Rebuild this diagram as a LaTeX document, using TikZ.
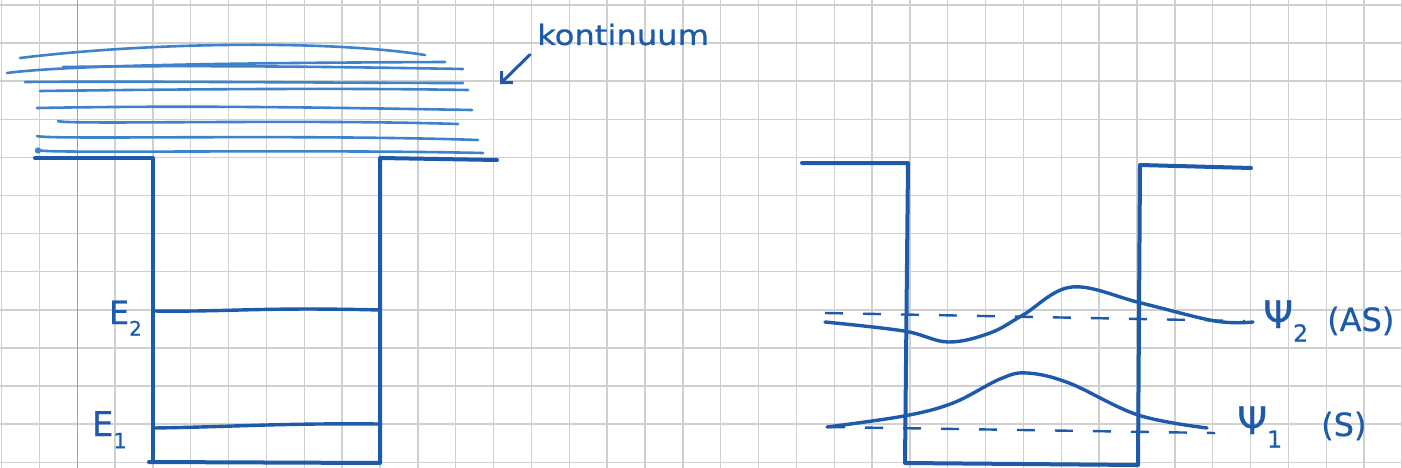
\documentclass[tikz,border=0pt]{standalone}
\usepackage{fontspec}
\usepackage{graphicx}
\setsansfont[FakeBold=0.6]{DejaVu Sans}
\usetikzlibrary{arrows.meta}
\definecolor{pen}{RGB}{30,90,170}
\definecolor{penlight}{RGB}{62,130,204}
\definecolor{paper}{RGB}{208,208,208}
\newcommand\lowidx[1]{\raisebox{-0.36em}{\scalebox{0.62}{#1}}}
\begin{document}
\begin{tikzpicture}[x=1pt,y=-1pt,
    gridline/.style={draw=paper,line width=1.4pt},
    wall/.style={draw=pen,line width=4pt,line join=round,line cap=round},
    level/.style={draw=pen,line width=3.4pt,line cap=round},
    band/.style={draw=penlight,line width=2.6pt,line cap=round},
    wave/.style={draw=pen,line width=3.4pt,line cap=round},
    guide/.style={draw=pen,line width=2.4pt,dash pattern=on 18pt off 20pt},
    hand/.style={text=pen,inner sep=0pt,font=\sffamily\fontsize{#1}{#1}\selectfont},
    hand/.default=26]
\useasboundingbox (0,0) rectangle (1402,468);
\fill[white] (0,0) rectangle (1402,468);
\foreach \gx in {0,...,37}
    \draw[gridline] ({1.5+37.85*\gx},0) -- ++(0,468);
\foreach \gy in {0,...,12}
    \draw[gridline] (0,{5+38.1*\gy}) -- ++(1402,0);
\draw[gridline,draw=gray!75] (77.2,0) -- ++(0,468);

\draw[band] (20,58) .. controls (150,42) and (330,40) .. (425,55);
\draw[band] (7,73) .. controls (60,66) and (200,63) .. (445,62);
\draw[band] (63,67) .. controls (200,65) and (350,67) .. (463,69);
\draw[band] (25,82) .. controls (150,81) and (350,83) .. (463,83);
\draw[band] (40,91) .. controls (200,89) and (350,88) .. (468,90);
\draw[band] (37,108) .. controls (200,105) and (350,108) .. (472,110);
\draw[band] (58,121) .. controls (62,125) and (300,119) .. (458,124);
\draw[band] (37,136) .. controls (45,140) and (300,134) .. (478,140);
\draw[band] (38,150) .. controls (38,154) and (300,149) .. (483,153);
\fill[penlight] (38,150.5) circle (3.2);

\draw[wall] (35,158) -- (153,158) -- (153,462);
\draw[wall] (149,462) -- (380,463) -- (380,158) -- (497,160);
\draw[level] (153,311) .. controls (230,312) and (260,307) .. (380,310);
\draw[level] (153,428) .. controls (230,427) and (280,423) .. (380,424);
\node[hand=32,anchor=base east] (Etwo) at (142,324) {E\lowidx{2}};
\node[hand=34,anchor=base east] (Eone) at (127,436) {E\lowidx{1}};

\node[hand=28,anchor=base west] (kont) at (537,45) {\scalebox{1.15}[1]{kontinuum}};
\coordinate (kontip) at (500,84);
\draw[wave,line width=3pt,-{Straight Barb[length=8pt,width=16pt]}] ([shift={(-7,9)}]kont.south west) -- (kontip);

\draw[wall] (802,163) -- (908,163) -- (905,463) -- (1138,465) -- (1140,165) -- (1251,168);
\draw[guide] (825,313) -- (1245,321);
\draw[guide] (827,427) -- (1215,433);
\draw[wave] plot[smooth,tension=0.6] coordinates {(825,322) (904,331) (948,342) (990,333) (1023,315) (1072,287) (1141,303) (1215,321) (1253,322)};
\draw[wave] plot[smooth,tension=0.6] coordinates {(827,427) (904,416) (953,403) (1000,379) (1027,373) (1069,383) (1138,415) (1207,428)};

\node[hand=38,anchor=base west] (psitwo) at (1263,328) {Ψ\lowidx{2}};
\node[hand=32,anchor=base west] (astag) at (1327,331) {(AS)};
\node[hand=38,anchor=base west] (psione) at (1237,434) {Ψ\lowidx{1}};
\node[hand=32,anchor=base west] (stag) at (1321,436) {(S)};
\end{tikzpicture}
\end{document}
